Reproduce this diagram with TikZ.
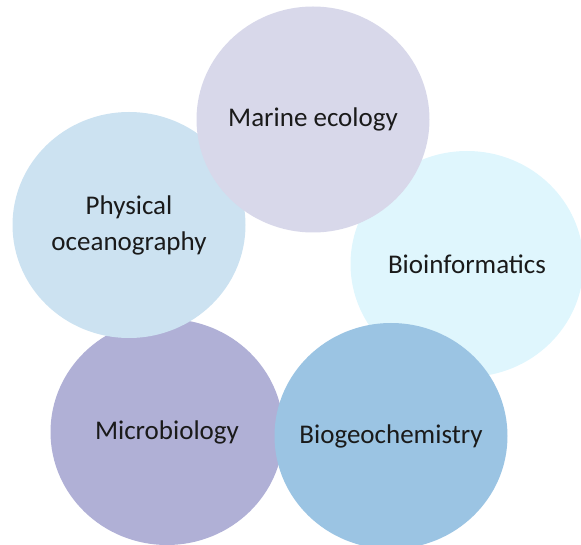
\documentclass[tikz,border=0pt]{standalone}
\usepackage{fontspec}
\setmainfont{Carlito}
\usepackage{tikz}
\usetikzlibrary{shapes.geometric, positioning}
\definecolor{fieldEco}{HTML}{D8D8EA}
\definecolor{fieldPhys}{HTML}{CCE2F1}
\definecolor{fieldBioinf}{HTML}{DFF6FD}
\definecolor{fieldMicro}{HTML}{B0B0D6}
\definecolor{fieldGeo}{HTML}{9BC4E3}
\definecolor{fieldText}{HTML}{1A1A1A}
\tikzset{
    fieldBase/.style={
        ellipse,
        draw=none,
        minimum width=233pt,
        minimum height=226pt,
        inner sep=0pt,
        label={[fieldLabel]center:#1}
    },
    fieldLabel/.style={
        font=\fontsize{27}{36}\selectfont,
        text=fieldText,
        align=center,
        inner sep=0pt
    },
    % one style per field
    eco/.style={fieldBase={#1}, fill=fieldEco},
    phys/.style={fieldBase={#1}, fill=fieldPhys},
    bioinf/.style={fieldBase={#1}, fill=fieldBioinf},
    micro/.style={fieldBase={#1}, fill=fieldMicro},
    geo/.style={fieldBase={#1}, fill=fieldGeo}
}

\begin{document}
\begin{tikzpicture}[x=1pt, y=1pt]
\useasboundingbox (0,0) rectangle (581,544);
\clip (0,0) rectangle (581,544);

% lower ones first, the top ones last
\node[micro={Microbiology}] (micro) at (167,112) {};
\node[phys={Physical\\oceanography}] (phys) at (129,319) {};
\node[bioinf={Bioinformatics}] (bioinf) at (467,280) {};
\node[eco={Marine ecology}] (eco) at (313,424.5) {};
\node[geo={Biogeochemistry}] (geo) at (391,108) {};
\end{tikzpicture}
\end{document}
